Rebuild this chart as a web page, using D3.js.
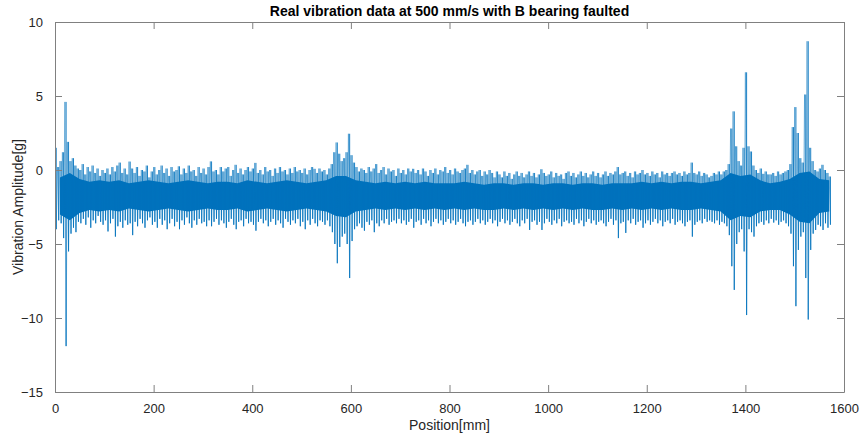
<!DOCTYPE html>
<html>
<head>
<meta charset="utf-8">
<script src="https://cdn.jsdelivr.net/npm/d3@7"></script>
<style>
  html, body { margin: 0; padding: 0; background: #fff; }
  svg { display: block; font-family: 'Liberation Sans', Arial, sans-serif; }
</style>
</head>
<body>
<div id="root"></div>
<script>
// peak envelope of the signal, one pair per 5 mm of travel
const binWidth = 5;
const peakHigh = [
  1.5, 0.2, 0.6, 1.2, 4.6, 1.9, 0.6, 0.8, 0.3, 0.1, 0.0, 0.4, -0.3, 0.2, -0.1, 0.3, -0.2, 0.1, -0.4, 0.0,
  -0.2, 0.1, -0.3, 0.2, -0.1, 0.3, 0.5, -0.2, 0.1, -0.3, 0.57, 0.1, -0.2, 0.2, -0.4, 0.0, -0.1, 0.3, -0.5, -0.1,
  0.2, -0.3, 0.0, 0.3, -0.2, 0.1, -0.4, 0.2, -0.1, 0.0, 0.25, -0.3, 0.1, -0.2, 0.3, -0.1, 0.0, -0.4, 0.2, -0.2,
  0.1, -0.3, 0.2, 0.58, -0.1, 0.0, -0.3, 0.2, -0.1, 0.1, 0.2, -0.4, 0.0, 0.35, -0.2, 0.1, -0.3, 0.0, 0.2, -0.1,
  0.1, 0.48, -0.2, 0.0, -0.3, 0.2, -0.1, 0.0, -0.4, 0.1, -0.2, 0.2, -0.1, 0.0, -0.3, 0.1, -0.2, 0.2, -0.1, 0.0,
  -0.2, 0.1, -0.3, 0.0, 0.2, 0.08, -0.2, 0.1, -0.1, 0.0, -0.3, 0.1, 0.4, 1.2, 1.86, 1.1, 0.6, 0.8, 1.2, 2.45,
  1.0, 0.5, 0.2, -0.1, 0.1, 0.0, -0.2, 0.2, -0.1, 0.1, 0.4, -0.2, 0.0, 0.2, -0.3, 0.1, -0.1, 0.0, -0.4, 0.1,
  -0.2, 0.0, -0.3, 0.1, -0.1, 0.08, -0.2, 0.0, -0.3, 0.1, -0.1, -0.4, 0.0, -0.2, 0.1, -0.3, 0.0, -0.1, 0.2, -0.2,
  0.0, -0.3, 0.1, -0.1, -0.2, 0.0, 0.1, 0.35, -0.2, 0.0, -0.3, -0.1, 0.0, -0.4, -0.1, -0.3, 0.0, -0.2, -0.5, -0.1,
  -0.3, -0.5, -0.1, -0.4, -0.2, -0.6, -0.3, -0.1, -0.4, -0.2, -0.5, -0.3, -0.1, -0.4, -0.2, -0.5, -0.3, 0.05, -0.2, -0.4,
  -0.3, -0.1, -0.5, -0.2, -0.4, -0.3, -0.6, -0.2, -0.1, -0.4, -0.2, -0.5, -0.3, -0.1, -0.4, -0.2, -0.5, -0.3, -0.1, -0.4,
  -0.2, -0.5, -0.3, -0.1, -0.4, -0.2, -0.3, -0.1, 0.2, -0.3, -0.2, -0.1, -0.4, -0.2, -0.5, -0.1, -0.3, -0.2, 0.0, -0.3,
  -0.2, -0.4, -0.1, -0.3, -0.2, -0.5, -0.1, -0.3, -0.2, -0.4, -0.2, -0.1, -0.3, -0.2, -0.4, -0.1, -0.3, -0.2, 0.5, -0.2,
  -0.3, -0.1, -0.4, -0.2, -0.3, -0.5, -0.4, -0.2, -0.3, -0.1, -0.3, -0.1, 0.0, 0.4, 2.8, 3.96, 1.6, 0.6, 0.3, 1.5,
  6.6, 1.6, 1.25, 0.3, 0.0, -0.2, 0.1, -0.26, -0.1, -0.3, -0.3, -0.2, -0.4, -0.1, -0.3, -0.2, -0.1, 0.0, 0.4, 2.9,
  4.25, 2.5, 0.8, 0.5, 5.1, 8.7, 1.5, 0.6, 0.0, -0.1, 0.1, 0.35, 0.0, -0.2, -0.44
];
const peakLow = [
  -4.0, -3.4, -3.6, -4.6, -11.9, -5.5, -4.3, -3.9, -4.2, -3.5, -3.6, -3.3, -3.7, -3.2, -3.9, -3.4, -3.6, -3.1, -3.5, -3.7,
  -3.4, -4.15, -3.6, -3.3, -4.5, -3.8, -3.5, -3.9, -3.4, -3.7, -3.6, -4.4, -3.5, -3.8, -3.3, -3.6, -3.9, -3.4, -3.2, -3.7,
  -3.5, -3.9, -3.3, -3.7, -3.4, -4.0, -3.6, -3.3, -3.8, -3.5, -4.0, -3.4, -3.7, -3.2, -3.6, -3.9, -3.4, -3.7, -3.3, -3.6,
  -3.5, -3.8, -3.4, -3.8, -3.5, -3.3, -3.7, -3.4, -3.6, -3.9, -3.5, -3.3, -3.7, -4.0, -3.5, -3.4, -3.8, -3.3, -3.6, -3.5,
  -3.7, -4.1, -3.5, -3.3, -3.6, -3.4, -3.8, -3.5, -3.3, -3.7, -3.4, -3.6, -3.9, -3.3, -3.5, -3.7, -3.4, -3.6, -3.3, -3.8,
  -3.5, -4.0, -3.4, -3.7, -3.3, -3.6, -3.8, -3.4, -3.5, -3.7, -3.4, -3.8, -4.2, -5.0, -6.3, -5.2, -4.5, -4.3, -5.0, -7.3,
  -4.8, -4.0, -3.8, -3.6, -3.9, -4.1, -3.5, -3.7, -3.4, -4.2, -3.6, -3.8, -3.4, -3.6, -3.3, -3.7, -3.5, -3.4, -3.6, -3.3,
  -3.6, -3.4, -3.7, -3.5, -3.3, -3.9, -3.5, -3.4, -3.7, -3.3, -3.6, -3.4, -3.8, -3.5, -3.3, -3.6, -3.4, -3.7, -3.5, -3.3,
  -3.6, -3.4, -3.7, -3.5, -3.3, -3.6, -3.8, -3.5, -3.4, -3.7, -3.5, -3.3, -3.6, -3.4, -3.7, -3.5, -3.3, -3.6, -3.4, -3.8,
  -3.5, -3.3, -3.6, -3.4, -3.7, -3.5, -3.3, -3.6, -3.8, -3.4, -3.6, -3.3, -4.05, -3.5, -3.4, -3.7, -3.5, -4.05, -3.6, -3.3,
  -3.5, -3.7, -3.4, -3.6, -3.3, -3.8, -3.5, -3.4, -3.6, -3.5, -3.7, -3.3, -3.6, -3.4, -3.8, -3.5, -3.3, -3.6, -3.4, -3.7,
  -3.5, -3.4, -3.6, -3.8, -3.5, -3.3, -3.7, -3.4, -4.6, -3.6, -3.5, -4.25, -3.4, -3.6, -3.3, -3.7, -3.5, -3.4, -3.9, -3.6,
  -3.4, -3.7, -3.5, -3.3, -3.6, -3.4, -3.8, -3.5, -3.4, -3.6, -3.3, -3.7, -3.5, -3.4, -3.6, -3.8, -3.5, -3.4, -4.5, -3.7,
  -3.5, -3.4, -3.6, -3.3, -3.5, -3.4, -3.5, -3.6, -3.4, -3.7, -3.5, -3.6, -3.8, -4.4, -6.5, -8.1, -5.0, -4.2, -4.0, -5.5,
  -9.8, -4.0, -4.2, -4.5, -3.8, -3.6, -3.5, -3.7, -3.4, -3.6, -3.3, -3.55, -3.4, -3.7, -3.5, -3.4, -3.6, -3.8, -4.3, -6.5,
  -9.2, -5.4, -4.5, -4.2, -7.3, -10.1, -5.4, -4.3, -4.05, -3.7, -3.8, -4.05, -3.6, -3.9, -3.7
];

// dense core of the trace (where most samples sit), one pair per 20 mm
const coreBinWidth = 20;
const coreHigh = [
  -0.5, -0.2, -0.6, -0.8, -0.7, -0.8, -0.7, -0.9, -0.8, -0.7, -0.8, -0.9, -0.8, -0.7, -0.8, -0.9, -0.8, -0.8, -0.9, -0.7,
  -0.8, -0.9, -0.8, -0.7, -0.8, -0.9, -0.8, -0.7, -0.4, -0.4, -0.7, -0.8, -0.9, -0.8, -0.9, -0.8, -0.9, -0.8, -0.9, -0.9,
  -0.9, -0.8, -0.9, -1.0, -0.9, -0.9, -1.0, -0.9, -0.9, -1.0, -0.9, -0.9, -1.0, -0.9, -0.9, -1.0, -0.9, -0.9, -0.9, -0.8,
  -0.9, -0.8, -0.9, -0.8, -0.8, -0.9, -0.8, -0.7, -0.2, -0.4, -0.3, -0.7, -0.9, -0.8, -0.6, -0.2, -0.1, -0.6, -0.7
];
const coreLow = [
  -3.0, -3.4, -2.9, -2.7, -2.8, -2.7, -2.8, -2.6, -2.7, -2.8, -2.7, -2.6, -2.7, -2.8, -2.7, -2.6, -2.7, -2.7, -2.6, -2.8,
  -2.7, -2.6, -2.7, -2.8, -2.7, -2.6, -2.7, -2.8, -3.1, -3.2, -2.8, -2.7, -2.6, -2.7, -2.6, -2.7, -2.6, -2.7, -2.6, -2.7,
  -2.6, -2.7, -2.6, -2.7, -2.7, -2.6, -2.7, -2.6, -2.7, -2.6, -2.7, -2.6, -2.7, -2.6, -2.7, -2.7, -2.6, -2.7, -2.6, -2.7,
  -2.6, -2.7, -2.6, -2.7, -2.7, -2.6, -2.7, -2.8, -3.4, -3.1, -3.2, -2.8, -2.7, -2.7, -3.0, -3.5, -3.6, -2.9, -2.8
];

const xTicks = [0, 200, 400, 600, 800, 1000, 1200, 1400, 1600];
const yTicks = [-15, -10, -5, 0, 5, 10];

const width = 862;
const height = 441;
const margin = { top: 22, right: 18, bottom: 49, left: 55 };
const innerW = width - margin.left - margin.right;
const innerH = height - margin.top - margin.bottom;

const x = d3.scaleLinear().domain([0, 1600]).range([0, innerW]);
const y = d3.scaleLinear().domain([-15, 10]).range([innerH, 0]);

const svg = d3.select('#root').append('svg')
  .attr('width', width)
  .attr('height', height);

const g = svg.append('g').attr('transform', `translate(${margin.left},${margin.top})`);

g.append('defs').append('clipPath').attr('id', 'clip')
  .append('rect').attr('width', innerW).attr('height', innerH);

const plot = g.append('g').attr('clip-path', 'url(#clip)');
const blue = '#0072BD';

// core band
const coreArea = d3.area()
  .x((d, i) => x(i * coreBinWidth + coreBinWidth / 2))
  .y0((d, i) => y(coreLow[i]))
  .y1(d => y(d));

plot.append('path')
  .datum(coreHigh)
  .attr('fill', blue)
  .attr('d', coreArea);

// peak to peak strokes per bin
plot.selectAll('line.peak')
  .data(peakHigh)
  .join('line')
  .attr('class', 'peak')
  .attr('x1', (d, i) => x(i * binWidth + binWidth / 2))
  .attr('x2', (d, i) => x(i * binWidth + binWidth / 2))
  .attr('y1', d => y(d))
  .attr('y2', (d, i) => y(peakLow[i]))
  .attr('stroke', blue)
  .attr('stroke-width', 0.9);

// thin diagonal links between neighbouring peaks give the trace its texture
const trace = [];
peakHigh.forEach((h, i) => {
  trace.push([i * binWidth, h]);
  trace.push([i * binWidth + binWidth / 2, peakLow[i]]);
});
plot.append('path')
  .datum(trace)
  .attr('fill', 'none')
  .attr('stroke', blue)
  .attr('stroke-opacity', 0.75)
  .attr('stroke-width', 0.6)
  .attr('d', d3.line().x(d => x(d[0])).y(d => y(d[1])));

const axisColor = '#808080';
const textColor = '#262626';
const tickLen = 7;
const fmt = d3.format('d');

const styleAxis = sel => {
  sel.select('.domain').attr('stroke', axisColor);
  sel.selectAll('.tick line').attr('stroke', axisColor);
  sel.selectAll('.tick text')
    .attr('fill', textColor)
    .attr('font-size', 13)
    .attr('font-family', "'Liberation Sans', Arial, sans-serif");
};

g.append('g')
  .attr('transform', `translate(0,${innerH})`)
  .call(d3.axisBottom(x).tickValues(xTicks).tickFormat(fmt).tickSizeInner(-tickLen).tickSizeOuter(0).tickPadding(12))
  .call(styleAxis);

g.append('g')
  .call(d3.axisTop(x).tickValues(xTicks).tickSizeInner(-tickLen).tickSizeOuter(0).tickFormat(''))
  .call(styleAxis);

g.append('g')
  .call(d3.axisLeft(y).tickValues(yTicks).tickFormat(fmt).tickSizeInner(-tickLen).tickSizeOuter(0).tickPadding(12))
  .call(styleAxis);

g.append('g')
  .attr('transform', `translate(${innerW},0)`)
  .call(d3.axisRight(y).tickValues(yTicks).tickSizeInner(-tickLen).tickSizeOuter(0).tickFormat(''))
  .call(styleAxis);

svg.append('text')
  .attr('x', margin.left + innerW / 2)
  .attr('y', 16)
  .attr('text-anchor', 'middle')
  .attr('font-size', 14)
  .attr('font-weight', 'bold')
  .attr('fill', '#000')
  .text('Real vibration data at 500 mm/s with B bearing faulted');

svg.append('text')
  .attr('x', margin.left + innerW / 2)
  .attr('y', 430)
  .attr('text-anchor', 'middle')
  .attr('font-size', 14)
  .attr('fill', textColor)
  .text('Position[mm]');

svg.append('text')
  .attr('transform', `translate(23,${margin.top + innerH / 2}) rotate(-90)`)
  .attr('text-anchor', 'middle')
  .attr('font-size', 14)
  .attr('fill', textColor)
  .text('Vibration Amplitude[g]');
</script>
</body>
</html>
